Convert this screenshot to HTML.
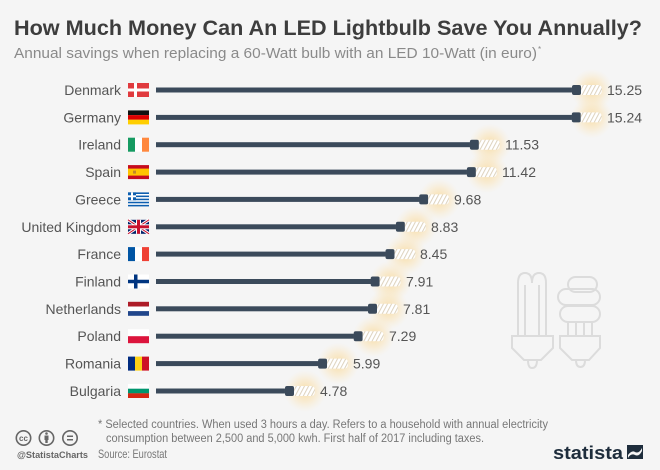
<!DOCTYPE html>
<html><head><meta charset="utf-8"><style>
html,body{margin:0;padding:0;background:#f5f5f5;}
svg{display:block;font-family:"Liberation Sans",sans-serif;}
</style></head><body>
<svg width="660" height="470" viewBox="0 0 660 470" xmlns="http://www.w3.org/2000/svg">
<defs>
<radialGradient id="glow">
<stop offset="0" stop-color="#fad48a" stop-opacity="0.75"/>
<stop offset="0.55" stop-color="#fcdfa6" stop-opacity="0.4"/>
<stop offset="1" stop-color="#fde9c2" stop-opacity="0"/>
</radialGradient>
<pattern id="stripes" width="3.6" height="10" patternUnits="userSpaceOnUse" patternTransform="rotate(28)">
<rect width="3.6" height="10" fill="#ffffff"/>
<rect width="1" height="10" fill="#ddd2bd"/>
</pattern>
<g id="bulb">
<circle cx="20" cy="0" r="21" fill="url(#glow)"/>
<rect x="0" y="-5" width="9" height="10" rx="2" fill="#3b4a5b"/>
<path d="M9 -5 H26 Q30 -5 30 0 Q30 5 26 5 H9 Z" fill="url(#stripes)"/>
</g>
</defs>
<rect width="660" height="470" fill="#f5f5f5"/>

<text x="14" y="35" font-size="21" font-weight="bold" fill="#3d3d3d" textLength="628" lengthAdjust="spacingAndGlyphs">How Much Money Can An LED Lightbulb Save You Annually?</text>
<text x="14" y="58" font-size="14.5" fill="#8a8a8a" textLength="523" lengthAdjust="spacingAndGlyphs">Annual savings when replacing a 60-Watt bulb with an LED 10-Watt (in euro)</text>
<text x="538" y="52" font-size="8" fill="#8a8a8a">*</text>

<!-- background bulbs icon -->
<g fill="none" stroke="#dcdcdc" stroke-width="2">
<path d="M518 335 V283 Q518 273 525 273 Q532 273 532 283 Q532 273 539 273 Q546 273 546 283 V335"/>
<path d="M525 335 V285 M539 335 V285"/>
<path d="M512 336 H553 V348 L541 360 H524 L512 348 Z"/>
<path d="M528 360 Q528 368 532 368 Q537 368 537 360"/>
<rect x="568" y="277" width="29" height="15" rx="7.5"/>
<rect x="558" y="289" width="42" height="16" rx="8"/>
<rect x="560" y="306" width="40" height="16" rx="8"/>
<path d="M568 322 V335 M592 322 V335 M576 322 V335 M584 322 V335"/>
<path d="M560 336 H600 V348 L589 360 H572 L560 348 Z"/>
<path d="M576 360 Q576 367 580.5 367 Q585 367 585 360"/>
</g>

<g font-size="14" fill="#555">
<g transform="translate(0,90)">
<text x="121" y="5" text-anchor="end">Denmark</text>
<rect x="128" y="-7" width="21" height="14" fill="#e03a3e"/><rect x="134" y="-7" width="3" height="14" fill="#fff"/><rect x="128" y="-1.5" width="21" height="3" fill="#fff"/>
<rect x="156" y="-2.5" width="417" height="5" fill="#3b4a5b"/>
<use href="#bulb" x="572"/>
<text x="607" y="5">15.25</text>
</g>
<g transform="translate(0,117.4)">
<text x="121" y="5" text-anchor="end">Germany</text>
<rect x="128" y="-7" width="21" height="4.7" fill="#111"/><rect x="128" y="-2.3" width="21" height="4.7" fill="#dd0000"/><rect x="128" y="2.3" width="21" height="4.7" fill="#ffce00"/>
<rect x="156" y="-2.5" width="417" height="5" fill="#3b4a5b"/>
<use href="#bulb" x="571.8"/>
<text x="607" y="5">15.24</text>
</g>
<g transform="translate(0,144.7)">
<text x="121" y="5" text-anchor="end">Ireland</text>
<rect x="128" y="-7" width="7" height="14" fill="#169b62"/><rect x="135" y="-7" width="7" height="14" fill="#fff"/><rect x="142" y="-7" width="7" height="14" fill="#ff883e"/>
<rect x="156" y="-2.5" width="315" height="5" fill="#3b4a5b"/>
<use href="#bulb" x="469.9"/>
<text x="505" y="5">11.53</text>
</g>
<g transform="translate(0,172.1)">
<text x="121" y="5" text-anchor="end">Spain</text>
<rect x="128" y="-7" width="21" height="14" fill="#c60b1e"/><rect x="128" y="-3.5" width="21" height="7" fill="#ffc400"/><rect x="133" y="-1.5" width="3" height="3" fill="#c0862a"/>
<rect x="156" y="-2.5" width="312" height="5" fill="#3b4a5b"/>
<use href="#bulb" x="466.9"/>
<text x="502" y="5">11.42</text>
</g>
<g transform="translate(0,199.4)">
<text x="121" y="5" text-anchor="end">Greece</text>
<rect x="128" y="-7" width="21" height="14" fill="#0d5eaf"/>
<rect x="128" y="-5.4" width="21" height="1.55" fill="#fff"/><rect x="128" y="-2.3" width="21" height="1.55" fill="#fff"/><rect x="128" y="0.8" width="21" height="1.55" fill="#fff"/><rect x="128" y="3.9" width="21" height="1.55" fill="#fff"/>
<rect x="128" y="-7" width="8" height="7.8" fill="#0d5eaf"/><rect x="131" y="-7" width="2" height="7.8" fill="#fff"/><rect x="128" y="-4.1" width="8" height="2" fill="#fff"/>
<rect x="156" y="-2.5" width="266" height="5" fill="#3b4a5b"/>
<use href="#bulb" x="419.2"/>
<text x="454" y="5">9.68</text>
</g>
<g transform="translate(0,226.8)">
<text x="121" y="5" text-anchor="end">United Kingdom</text>
<rect x="128" y="-7" width="21" height="14" fill="#012169"/>
<path d="M128 -7 L149 7 M149 -7 L128 7" stroke="#fff" stroke-width="3"/>
<path d="M128 -7 L149 7 M149 -7 L128 7" stroke="#c8102e" stroke-width="1"/>
<rect x="136" y="-7" width="5" height="14" fill="#fff"/><rect x="128" y="-2.5" width="21" height="5" fill="#fff"/>
<rect x="137" y="-7" width="3" height="14" fill="#c8102e"/><rect x="128" y="-1.5" width="21" height="3" fill="#c8102e"/>
<rect x="156" y="-2.5" width="243" height="5" fill="#3b4a5b"/>
<use href="#bulb" x="395.9"/>
<text x="431" y="5">8.83</text>
</g>
<g transform="translate(0,254.1)">
<text x="121" y="5" text-anchor="end">France</text>
<rect x="128" y="-7" width="7" height="14" fill="#0055a4"/><rect x="135" y="-7" width="7" height="14" fill="#fff"/><rect x="142" y="-7" width="7" height="14" fill="#ef4135"/>
<rect x="156" y="-2.5" width="233" height="5" fill="#3b4a5b"/>
<use href="#bulb" x="385.5"/>
<text x="420" y="5">8.45</text>
</g>
<g transform="translate(0,281.5)">
<text x="121" y="5" text-anchor="end">Finland</text>
<rect x="128" y="-7" width="21" height="14" fill="#fff"/><rect x="134" y="-7" width="3.5" height="14" fill="#003580"/><rect x="128" y="-1.75" width="21" height="3.5" fill="#003580"/>
<rect x="156" y="-2.5" width="218" height="5" fill="#3b4a5b"/>
<use href="#bulb" x="370.7"/>
<text x="406" y="5">7.91</text>
</g>
<g transform="translate(0,308.8)">
<text x="121" y="5" text-anchor="end">Netherlands</text>
<rect x="128" y="-7" width="21" height="4.7" fill="#ae1c28"/><rect x="128" y="-2.3" width="21" height="4.7" fill="#fff"/><rect x="128" y="2.3" width="21" height="4.7" fill="#21468b"/>
<rect x="156" y="-2.5" width="215" height="5" fill="#3b4a5b"/>
<use href="#bulb" x="368"/>
<text x="403" y="5">7.81</text>
</g>
<g transform="translate(0,336.2)">
<text x="121" y="5" text-anchor="end">Poland</text>
<rect x="128" y="-7" width="21" height="7" fill="#fff"/><rect x="128" y="0" width="21" height="7" fill="#dc143c"/>
<rect x="156" y="-2.5" width="201" height="5" fill="#3b4a5b"/>
<use href="#bulb" x="353.7"/>
<text x="389" y="5">7.29</text>
</g>
<g transform="translate(0,363.6)">
<text x="121" y="5" text-anchor="end">Romania</text>
<rect x="128" y="-7" width="7" height="14" fill="#002b7f"/><rect x="135" y="-7" width="7" height="14" fill="#fcd116"/><rect x="142" y="-7" width="7" height="14" fill="#ce1126"/>
<rect x="156" y="-2.5" width="165" height="5" fill="#3b4a5b"/>
<use href="#bulb" x="318.1"/>
<text x="353" y="5">5.99</text>
</g>
<g transform="translate(0,391)">
<text x="121" y="5" text-anchor="end">Bulgaria</text>
<rect x="128" y="-7" width="21" height="4.7" fill="#fff"/><rect x="128" y="-2.3" width="21" height="4.7" fill="#00966e"/><rect x="128" y="2.3" width="21" height="4.7" fill="#d62612"/>
<rect x="156" y="-2.5" width="132" height="5" fill="#3b4a5b"/>
<use href="#bulb" x="285"/>
<text x="320" y="5">4.78</text>
</g>
</g>

<!-- footer -->
<g fill="none" stroke="#666" stroke-width="1.6">
<circle cx="23.5" cy="438" r="7.2"/>
<circle cx="46.5" cy="438" r="7.2"/>
<circle cx="70" cy="438" r="7.2"/>
</g>
<text x="23.5" y="441" font-size="8" font-weight="bold" fill="#666" text-anchor="middle">cc</text>
<circle cx="46.5" cy="433.5" r="1.3" fill="#666"/>
<rect x="44.5" y="435.5" width="4" height="4.5" fill="#666"/>
<rect x="45.3" y="439" width="2.4" height="4" fill="#666"/>
<rect x="67" y="435.5" width="6" height="1.5" fill="#666"/>
<rect x="67" y="439" width="6" height="1.5" fill="#666"/>
<text x="17" y="458" font-size="9" font-weight="bold" fill="#666" textLength="71" lengthAdjust="spacingAndGlyphs">@StatistaCharts</text>

<g font-size="11.5" fill="#777">
<text x="98" y="428" textLength="450" lengthAdjust="spacingAndGlyphs">* Selected countries. When used 3 hours a day. Refers to a household with annual electricity</text>
<text x="106" y="442" textLength="378" lengthAdjust="spacingAndGlyphs">consumption between 2,500 and 5,000 kwh. First half of 2017 including taxes.</text>
<text x="98" y="458" font-size="12" textLength="69" lengthAdjust="spacingAndGlyphs">Source: Eurostat</text>
</g>

<text x="553" y="459" font-size="18" font-weight="bold" fill="#1e2d3c" textLength="70" lengthAdjust="spacingAndGlyphs">statista</text>
<rect x="627" y="445" width="16" height="14" fill="#1e2d3c"/>
<path d="M628 455 Q632 450 635 452 Q639 454 642 448 L642 451 Q639 457 635 455 Q631 453 628 458 Z" fill="#f5f5f5"/>
</svg>
</body></html>
